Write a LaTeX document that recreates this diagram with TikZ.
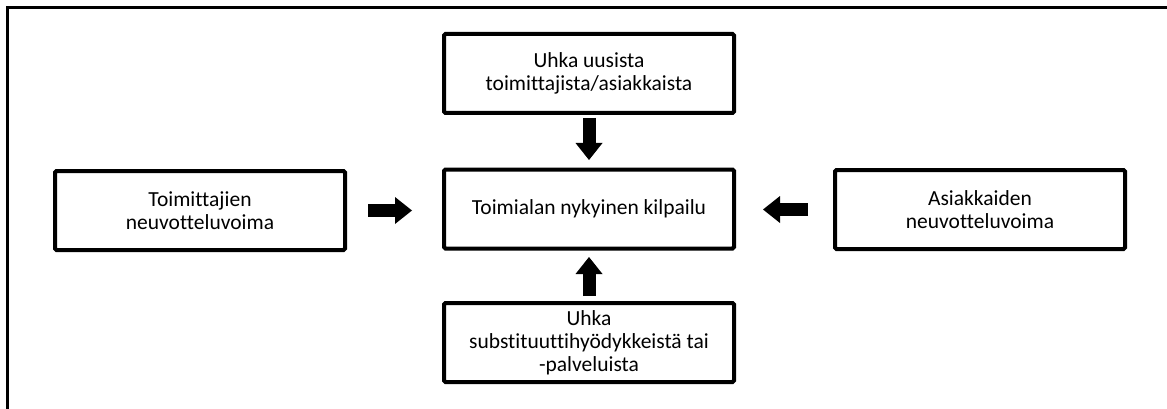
\documentclass[tikz,border=0pt]{standalone}
\usepackage{fontspec}
\setmainfont{Carlito}[Ligatures={NoCommon}]
\usetikzlibrary{arrows.meta}

\tikzset{
  forcebox/.style={draw=black, line width=4pt, rounded corners=1.5pt,
    minimum width=290pt, minimum height=79pt, inner sep=0pt,
    align=center, text=black,
    font=\fontsize{21.5}{23}\selectfont},
  blockarrow/.style={line width=13pt, draw=black,
    -{Triangle[length=17pt, width=27pt, line width=0pt]}},
}

\begin{document}
\begin{tikzpicture}[x=1pt, y=-1pt]
  \useasboundingbox (0,0) rectangle (1167,409);

  % frame along the top and left edges
  \draw[line width=3.5pt, line join=miter] (7.5,409) -- (7.5,7.5) -- (1167,7.5);

  % the five forces
  \node[forcebox] (mid) at (589,209) {Toimialan nykyinen kilpailu};
  \node[forcebox] (top) at (589,73.5) {Uhka uusista\\toimittajista/asiakkaista};
  \node[forcebox] (bot) at (589,342.5) {Uhka\\substituuttihyödykkeistä tai\\-palveluista};
  \node[forcebox] (sup) at (200,210.5) {Toimittajien\\neuvotteluvoima};
  \node[forcebox] (cus) at (980,209.5) {Asiakkaiden\\neuvotteluvoima};

  % arrows pointing into the centre box
  \draw[blockarrow, shorten <=3pt, shorten >=7.5pt] (top.south) -- (mid.north);
  \draw[blockarrow, shorten <=5pt, shorten >=6.5pt] (bot.north) -- (mid.south);
  \draw[blockarrow, shorten <=21pt, shorten >=30pt] (sup.east) -- (sup.east -| mid.west);
  \draw[blockarrow, shorten <=25pt, shorten >=27pt] (cus.west) -- (cus.west -| mid.east);
\end{tikzpicture}
\end{document}
